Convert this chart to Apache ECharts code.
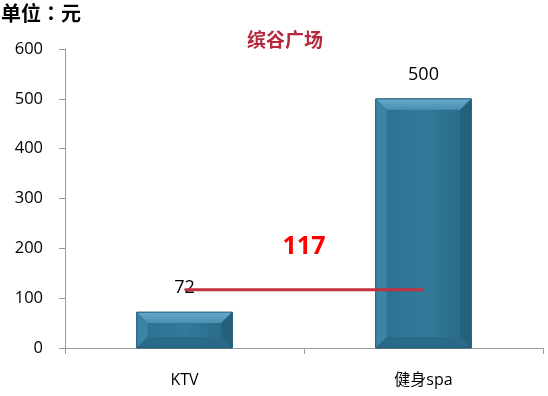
<!DOCTYPE html>
<html><head><meta charset="utf-8">
<script src="https://cdn.jsdelivr.net/npm/echarts@6/dist/echarts.min.js"></script>
<style>html,body{margin:0;padding:0;background:#fff}#c{width:548px;height:396px}</style>
</head><body><div id="c"></div>
<script>
const categories = ['KTV', '健身spa'];
const values = [72, 500];
const avgValue = 117;
const yTicks = [0, 100, 200, 300, 400, 500, 600];
const titleText = '缤谷广场';
const unitText = '单位：元';

const FONT = "'Open Sans','Noto Sans CJK SC',sans-serif";
const chart = echarts.init(document.getElementById('c'), null, {renderer: 'canvas'});

function renderBar(params, api) {
  const i = api.value(0);
  const v = api.value(1);
  const top = api.coord([i, v]);
  const base = api.coord([i, 0]);
  const bw = api.size([1, 0])[0] * 0.4;
  const x0 = top[0] - bw / 2, x1 = top[0] + bw / 2;
  const y0 = top[1], y1 = base[1];
  const h = y1 - y0;
  const b = Math.min(11, h / 3);
  const kids = [
    {type: 'rect', shape: {x: x0, y: y0, width: bw, height: h},
     style: {fill: new echarts.graphic.LinearGradient(0, 0, 1, 0, [
       {offset: 0, color: '#2d6f8f'}, {offset: 0.5, color: '#327a9b'}, {offset: 1, color: '#2a6884'}])}},
    {type: 'polygon', shape: {points: [[x0, y0], [x1, y0], [x1 - b, y0 + b], [x0 + b, y0 + b]]},
     style: {fill: new echarts.graphic.LinearGradient(0, 0, 0, 1, [
       {offset: 0, color: '#66aacb'}, {offset: 1, color: '#4a90b2'}])}},
    {type: 'polygon', shape: {points: [[x0, y0], [x0 + b, y0 + b], [x0 + b, y1 - b], [x0, y1]]},
     style: {fill: '#3a84a6'}},
    {type: 'polygon', shape: {points: [[x1, y0], [x1 - b, y0 + b], [x1 - b, y1 - b], [x1, y1]]},
     style: {fill: '#25607c'}},
    {type: 'polygon', shape: {points: [[x0, y1], [x0 + b, y1 - b], [x1 - b, y1 - b], [x1, y1]]},
     style: {fill: '#2a6a88'}},
    {type: 'rect', shape: {x: x0, y: y0, width: bw, height: h},
     style: {fill: 'none', stroke: '#1f5470', lineWidth: 1}},
    {type: 'text', style: {text: String(v), x: top[0], y: y0 - 15, align: 'center', verticalAlign: 'bottom',
      fill: '#000', font: "18px " + FONT}}
  ];
  return {type: 'group', children: kids};
}

chart.setOption({
  animation: false,
  grid: {left: 65, right: 5, top: 49, bottom: 48},
  title: {text: titleText, left: 280, textAlign: 'center', top: 25,
    textStyle: {color: '#b5293b', fontSize: 19, fontWeight: 'bold', fontFamily: "'Noto Sans CJK SC',sans-serif"}},
  xAxis: {type: 'category', data: categories,
    axisLine: {lineStyle: {color: '#9a9a9a', width: 1}},
    axisTick: {show: true, length: 6, lineStyle: {color: '#9a9a9a'}},
    axisLabel: {margin: 24, color: '#000', fontSize: 16, fontFamily: FONT},
    splitLine: {show: false}},
  yAxis: {type: 'value', min: yTicks[0], max: yTicks[yTicks.length - 1], interval: 100,
    axisLine: {show: true, lineStyle: {color: '#9a9a9a', width: 1}},
    axisTick: {show: true, length: 6, lineStyle: {color: '#9a9a9a'}},
    axisLabel: {margin: 22, color: '#000', fontSize: 16.5, fontFamily: FONT},
    splitLine: {show: false}},
  series: [
    {type: 'custom', renderItem: renderBar, data: values.map((v, i) => [i, v]), encode: {x: 0, y: 1}, z: 2},
    {type: 'line', data: categories.map(() => avgValue), symbol: 'none', z: 3,
     lineStyle: {color: '#c0323f', width: 3}}
  ]
});

const p0 = chart.convertToPixel({xAxisIndex: 0, yAxisIndex: 0}, [0, avgValue]);
const p1 = chart.convertToPixel({xAxisIndex: 0, yAxisIndex: 0}, [1, avgValue]);
chart.setOption({graphic: [
  {type: 'text', x: 1, y: 3,
   style: {text: unitText, fill: '#000', fontSize: 20, fontWeight: 'bold', fontFamily: "'Noto Sans CJK TC','Noto Sans CJK SC',sans-serif"}},
  {type: 'text', x: (p0[0] + p1[0]) / 2, y: p0[1] - 43,
   style: {text: String(avgValue), fill: '#ff0000', fontSize: 25, fontWeight: 'bold', fontFamily: FONT,
     align: 'center', verticalAlign: 'middle'}}
]});
</script></body></html>
